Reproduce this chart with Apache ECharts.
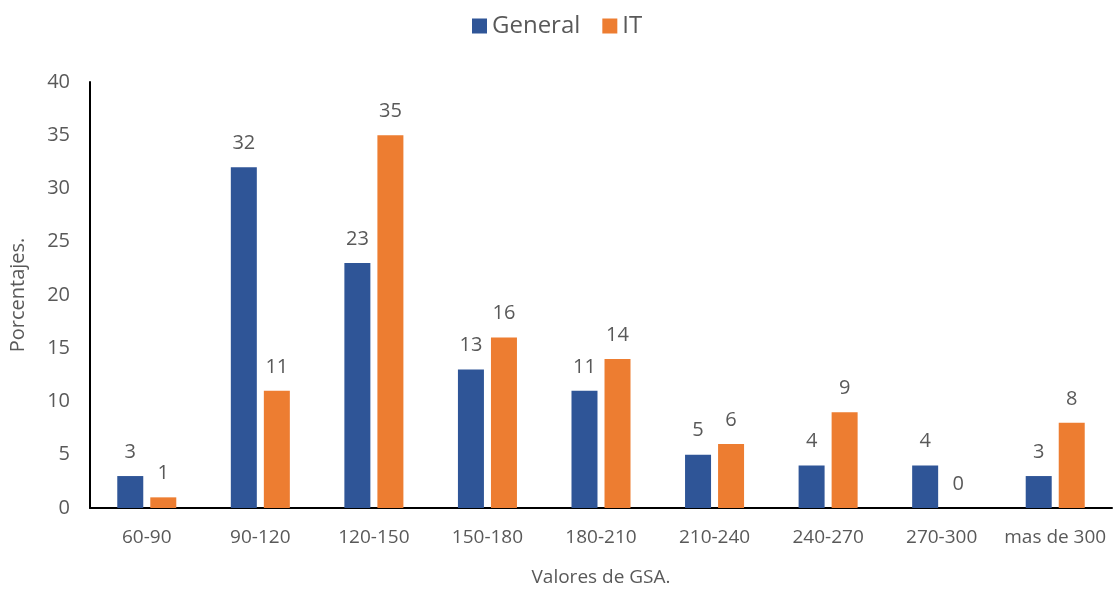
<!DOCTYPE html>
<html>
<head>
<meta charset="utf-8">
<script src="https://cdn.jsdelivr.net/npm/echarts@6/dist/echarts.min.js"></script>
<style>
  html, body { margin: 0; padding: 0; background: #fff; }
  #gsa-chart { width: 1117px; height: 590px; }
</style>
</head>
<body>
<div id="gsa-chart"></div>
<script>
// rangos de GSA (eje X)
const categories = ['60-90', '90-120', '120-150', '150-180', '180-210', '210-240', '240-270', '270-300', 'mas de 300']
// porcentajes por grupo
const generalValues = [3, 32, 23, 13, 11, 5, 4, 4, 3]
const itValues = [1, 11, 35, 16, 14, 6, 9, 0, 8]

const textColor = '#595959'
const fontFamily = '"Open Sans", "Liberation Sans", sans-serif'

const myChart = echarts.init(document.getElementById('gsa-chart'))
const labelStyle = {
  show: true,
  position: 'top',
  distance: 14,
  color: textColor,
  fontSize: 20,
  fontFamily: fontFamily
}
const option = {
  animation: false,
  legend: {
    top: 9,
    left: 467,
    itemWidth: 15,
    itemHeight: 15,
    itemGap: 22,
    icon: 'rect',
    itemStyle: { borderWidth: 0 },
    textStyle: { color: textColor, fontSize: 24, fontFamily: fontFamily },
    data: ['General', 'IT']
  },
  grid: {
    left: 90,
    right: 5,
    top: 82,
    bottom: 82,
    outerBoundsMode: 'none'
  },
  xAxis: {
    type: 'category',
    data: categories,
    name: 'Valores de GSA.',
    nameLocation: 'middle',
    nameGap: 60,
    nameTextStyle: { color: textColor, fontSize: 19, fontFamily: fontFamily },
    axisLine: { lineStyle: { color: '#000', width: 2 } },
    axisTick: { show: false },
    axisLabel: {
      interval: 0,
      margin: 20,
      color: textColor,
      fontSize: 19,
      fontFamily: fontFamily
    },
    splitLine: { show: false }
  },
  yAxis: {
    type: 'value',
    min: 0,
    max: 40,
    interval: 5,
    name: 'Porcentajes.',
    nameLocation: 'middle',
    nameGap: 62,
    nameTextStyle: { color: textColor, fontSize: 20, fontFamily: fontFamily },
    axisLine: { show: true, lineStyle: { color: '#000', width: 2 } },
    axisTick: { show: false },
    axisLabel: { margin: 20, color: textColor, fontSize: 20, fontFamily: fontFamily },
    splitLine: { show: false }
  },
  series: [
    {
      name: 'General',
      type: 'bar',
      data: generalValues,
      barWidth: 26,
      barGap: '27%',
      itemStyle: { color: '#2F5597' },
      label: labelStyle
    },
    {
      name: 'IT',
      type: 'bar',
      data: itValues,
      barWidth: 26,
      itemStyle: { color: '#ED7D31' },
      label: labelStyle
    }
  ]
}
myChart.setOption(option)
window.addEventListener('resize', function() {
  myChart.resize()
})
</script>
</body>
</html>
